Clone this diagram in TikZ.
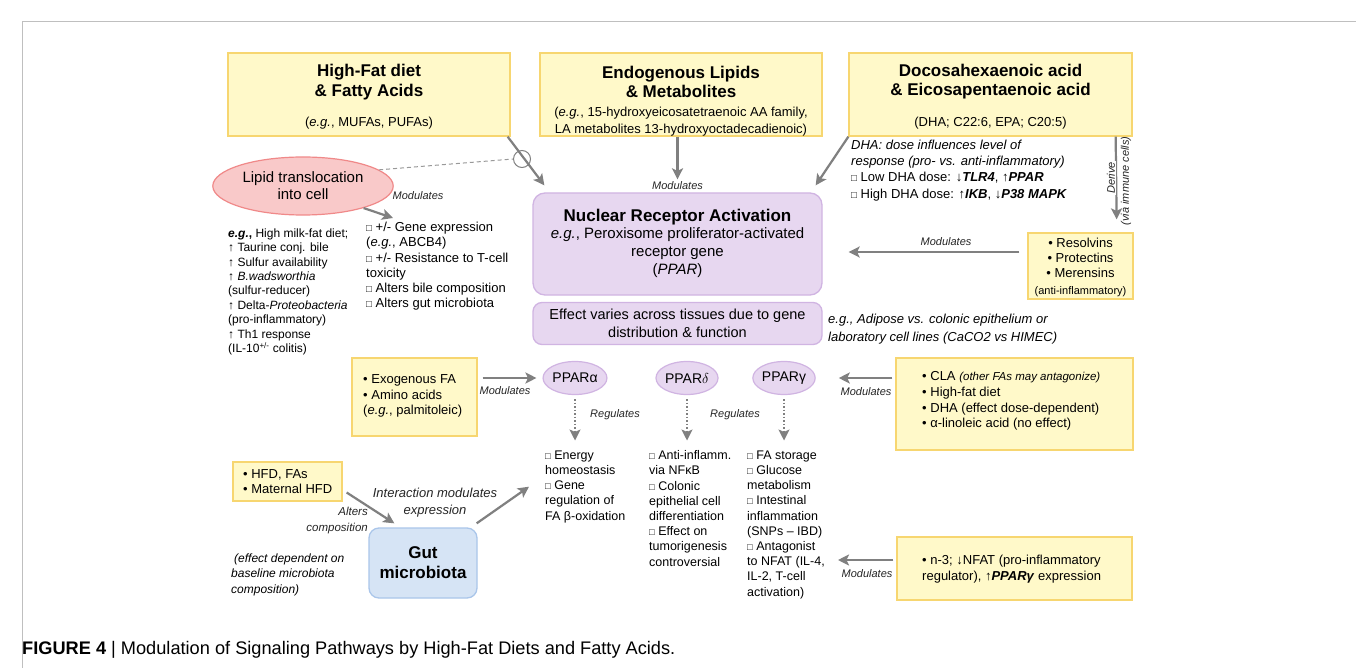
\documentclass[tikz,border=0pt]{standalone}
\usepackage{graphicx}
\usepackage{fontspec}
\setmainfont{Liberation Sans}
\usetikzlibrary{arrows.meta,shapes.geometric}

\definecolor{yfill}{RGB}{255,249,201}
\definecolor{yline}{RGB}{247,214,112}
\definecolor{pfill}{RGB}{231,215,240}
\definecolor{pline}{RGB}{208,180,226}
\definecolor{rfill}{RGB}{249,201,201}
\definecolor{rline}{RGB}{240,137,137}
\definecolor{bfill}{RGB}{214,228,245}
\definecolor{bline}{RGB}{170,198,234}
\definecolor{agray}{RGB}{128,128,128}
\newcommand{\fsz}[2]{\fontsize{#1}{#2}\selectfont}
\newcommand{\sqb}{\scalebox{0.75}{□}}

\begin{document}
\begin{tikzpicture}[x=1pt,y=-1pt,
    ybox/.style={draw=yline,fill=yfill,line width=1.3pt,inner sep=0pt},
    pbox/.style={draw=pline,fill=pfill,line width=1.3pt,rounded corners=12pt,inner sep=0pt},
    pell/.style={ellipse,draw=pline,fill=pfill,line width=1.2pt,minimum width=62pt,minimum height=33pt,inner sep=0pt,font=\fsz{14}{16}},
    arr/.style={draw=agray,line width=2.2pt,-{Stealth[length=11pt,width=11pt,inset=2.5pt]}},
    darr/.style={draw=agray,line width=1.5pt,dotted,-{Stealth[length=11pt,width=11pt,inset=2.5pt]}},
    lbl/.style={font=\fsz{11}{13}\itshape,text=black!85,inner sep=0pt},
    ttl/.style={font=\fsz{17}{19.5}\bfseries,align=center,inner sep=0pt},
    sub/.style={font=\fsz{13}{16.5},align=center,inner sep=0pt},
    txt/.style={font=\fsz{12.5}{15.2},align=left,inner sep=0pt,anchor=north west}]

    \fill[white] (0,0) rectangle (1356,668);
    \useasboundingbox (0,0) rectangle (1356,668);
    \draw[black!25,line width=1pt] (22,668) -- (22,22) -- (1356,22);

    \node[ybox,minimum width=282pt,minimum height=83pt] (hf) at (369,94.5) {};
    \node[ttl] (hft) at (369,82) {High-Fat diet\\\& Fatty Acids};
    \node[sub] (hfs) at (369,123) {(\textit{e.g.}, MUFAs, PUFAs)};
    \node[ybox,minimum width=282pt,minimum height=83pt] (el) at (681,94.5) {};
    \node[ttl] (elt) at (681,82) {Endogenous Lipids\\\& Metabolites};
    \node[sub] (els) at (681,121.5) {(\textit{e.g.}, 15-hydroxyeicosatetraenoic AA family,\\LA metabolites 13-hydroxyoctadecadienoic)};
    \node[ybox,minimum width=283pt,minimum height=83pt] (dha) at (990.5,94.5) {};
    \node[ttl] (dhat) at (990.5,81.5) {Docosahexaenoic acid\\\& Eicosapentaenoic acid};
    \node[sub] (dhas) at (990.5,123) {(DHA; C22:6, EPA; C20:5)};

    \node[ellipse,draw=rline,fill=rfill,line width=1.2pt,minimum width=160pt,minimum height=58pt,align=center,font=\fsz{15}{17}] (lip) at (303,186) {Lipid translocation\\into cell};
    \node[circle,draw=agray,line width=1pt,minimum size=17pt,inner sep=0pt] (blk) at (522,159) {};
    \draw[black!40,line width=1pt,dash pattern=on 4pt off 3pt] (lip.12) -- (blk.west);

    \node[pbox,minimum width=289pt,minimum height=102pt] (nra) at (677.5,244) {};
    \node[ttl] (nrat) at (677.5,217) {Nuclear Receptor Activation};
    \node[font=\fsz{15}{18},align=center,inner sep=0pt] (nras) at (677.5,252.5) {\textit{e.g.}, Peroxisome proliferator-activated\\receptor gene\\(\textit{PPAR})};
    \node[pbox,rounded corners=9pt,minimum width=289pt,minimum height=42pt,align=center,font=\fsz{14.5}{18.5}] (eff) at (677.5,323.5) {Effect varies across tissues due to gene\\distribution \& function};
    \node[txt,font=\fsz{13}{18}\itshape] (adi) at (828,314) {e.g., Adipose vs. colonic epithelium or\\laboratory cell lines (CaCO2 vs HIMEC)};

    \draw[arr] ([xshift=-3pt]hf.south east) -- ([xshift=12pt,yshift=7pt]nra.north west);
    \draw[arr] (el.south -| nra.north) -- ([yshift=13pt]nra.north);
    \node[lbl] (m2) at ([yshift=7pt]nra.north) {Modulates};
    \draw[arr] (dha.south west) -- ([xshift=-7pt,yshift=7pt]nra.north east);

    \node[txt,font=\fsz{13}{15.2}] (gene) at (366,222) {\sqb\ +/- Gene expression\\(\textit{e.g.}, ABCB4)\\\sqb\ +/- Resistance to T-cell\\toxicity\\\sqb\ Alters bile composition\\\sqb\ Alters gut microbiota};
    \draw[arr] (lip.-20) -- ([xshift=27pt,yshift=4pt]gene.north west);
    \node[lbl] (m1) at (418,196) {Modulates};
    \node[txt,font=\fsz{12}{14.4}] (milk) at (228,228.5) {\textbf{\textit{e.g.},} High milk-fat diet;\\↑ Taurine conj. bile\\↑ Sulfur availability\\↑ \textit{B.wadsworthia}\\(sulfur-reducer)\\↑ Delta-\textit{Proteobacteria}\\(pro-inflammatory)\\↑ Th1 response\\(IL-10\textsuperscript{+/-} colitis)};

    \node[txt,font=\fsz{13}{16.3}] (dose) at (851,139.5) {\textit{DHA: dose influences level of}\\\textit{response (pro- vs. anti-inflammatory)}\\\sqb\ Low DHA dose: ↓\textbf{\textit{TLR4}}, ↑\textbf{\textit{PPAR}}\\\sqb\ High DHA dose: ↑\textbf{\textit{IKB}}, ↓\textbf{\textit{P38 MAPK}}};

    \node[ybox,minimum width=105pt,minimum height=66pt] (res) at (1080.5,266) {};
    \node[font=\fsz{13}{14.8},align=center,inner sep=0pt] (rest) at (1080.5,258) {• Resolvins\\• Protectins\\• Merensins};
    \node[font=\fsz{11}{13},inner sep=0pt] (resa) at (1080.5,292) {(anti-inflammatory)};
    \draw[arr] ([xshift=-17pt]dha.south east) -- ([xshift=-17pt,yshift=13pt]res.north east);
    \node[lbl,rotate=90,fill=white,inner sep=1pt] (der) at (1111,178) {Derive};
    \node[lbl,rotate=90] (via) at (1126,181) {(via immune cells)};
    \draw[arr] ([xshift=-8pt,yshift=14pt]res.west) -- ([xshift=26pt,yshift=-8pt]nra.east);
    \node[lbl] (m3) at (946,242) {Modulates};

    \node[pell] (pa) at (575,378) {PPARα};
    \node[pell] (pd) at (687,378) {PPAR$\delta$};
    \node[pell] (pg) at (784,378) {PPARγ};

    \node[ybox,minimum width=125pt,minimum height=78pt] (exo) at (414.5,397) {};
    \node[txt,font=\fsz{13}{15.5}] (exot) at (363,374.5) {• Exogenous FA\\• Amino acids\\(\textit{e.g.}, palmitoleic)};
    \draw[arr] ([xshift=5pt,yshift=19pt]exo.east) -- ([xshift=-6pt]pa.west);
    \node[lbl] (m4) at (505,391) {Modulates};

    \node[txt] (la) at (545,450.5) {\sqb\ Energy\\homeostasis\\\sqb\ Gene\\regulation of\\FA β-oxidation};
    \node[txt] (ld) at (649,450.5) {\sqb\ Anti-inflamm.\\via NFκB\\\sqb\ Colonic\\epithelial cell\\differentiation\\\sqb\ Effect on\\tumorigenesis\\controversial};
    \node[txt] (lg) at (747,450.5) {\sqb\ FA storage\\\sqb\ Glucose\\metabolism\\\sqb\ Intestinal\\inflammation\\(SNPs – IBD)\\\sqb\ Antagonist\\to NFAT (IL-4,\\IL-2, T-cell\\activation)};
    \draw[darr,shorten <=4pt,shorten >=10pt] (pa.south) -- (pa.south |- la.north);
    \draw[darr,shorten <=4pt,shorten >=10pt] (pd.south) -- (pd.south |- ld.north);
    \draw[darr,shorten <=4pt,shorten >=10pt] (pg.south) -- (pg.south |- lg.north);
    \node[lbl] (r1) at (615,415) {Regulates};
    \node[lbl] (r2) at (735,415) {Regulates};

    \node[ybox,minimum width=237pt,minimum height=92pt] (cla) at (1014.5,404) {};
    \node[txt,font=\fsz{13}{15.7}] (clat) at (922,371.5) {• CLA {\fsz{11.5}{15.7}\itshape (other FAs may antagonize)}\\• High-fat diet\\• DHA (effect dose-dependent)\\• α-linoleic acid (no effect)};
    \draw[arr] ([xshift=-3pt]cla.west |- pg.east) -- ([xshift=23pt]pg.east);
    \node[lbl] (m5) at (866,392) {Modulates};

    \node[ybox,minimum width=235pt,minimum height=63pt] (n3) at (1014.5,568.5) {};
    \node[txt,font=\fsz{13}{16}] (n3t) at (922,554.5) {• n-3; ↓NFAT (pro-inflammatory\\regulator), ↑\textbf{\textit{PPARγ}} expression};
    \coordinate (n3tip) at (838,560);
    \draw[arr] ([xshift=-3pt,yshift=8.5pt]n3.west) -- (n3tip);
    \node[lbl] (m6) at (867,574) {Modulates};

    \node[ybox,minimum width=109pt,minimum height=39pt] (hfd) at (287.5,481.5) {};
    \node[txt,font=\fsz{13}{14.5}] (hfdt) at (243,469.5) {• HFD, FAs\\• Maternal HFD};
    \node[draw=bline,fill=bfill,line width=1.3pt,rounded corners=10pt,minimum width=108pt,minimum height=70pt,align=center,font=\fsz{17}{20}\bfseries] (gut) at (423,563) {Gut\\microbiota};
    \draw[arr] ([xshift=4pt,yshift=-11pt]hfd.east) -- ([xshift=26pt,yshift=4pt]gut.north west);
    \node[lbl,anchor=east,align=right,font=\fsz{11.5}{15.5}\itshape] (alt) at (368,520.5) {Alters\\composition};
    \node[lbl,align=center,font=\fsz{13}{16.5}\itshape] (inter) at (435,502.5) {Interaction modulates\\expression};
    \draw[arr] ([xshift=-1pt,yshift=4pt]gut.north east) -- ([xshift=-16pt]la.west);
    \node[txt,font=\fsz{12}{15.5}\itshape] (base) at (231,553.5) {\hspace{3pt}(effect dependent on\\baseline microbiota\\composition)};

    \node[anchor=west,font=\fsz{18.2}{20},inner sep=0pt] (cap) at (22,650) {\textbf{FIGURE 4} | Modulation of Signaling Pathways by High-Fat Diets and Fatty Acids.};
\end{tikzpicture}
\end{document}
